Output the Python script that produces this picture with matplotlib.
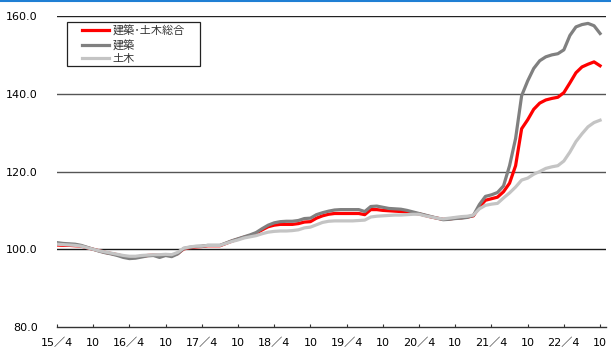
import matplotlib
matplotlib.use("Agg")
import matplotlib.pyplot as plt
from matplotlib.lines import Line2D
from matplotlib.patches import Rectangle

plt.rcParams['font.family'] = ['DejaVu Sans', 'Noto Sans CJK JP']

# 月次指数 2015/4 ～ 2022/10
tick_labels = ["15／4", "10", "16／4", "10", "17／4", "10", "18／4", "10",
               "19／4", "10", "20／4", "10", "21／4", "10", "22／4", "10"]

total = [101.1, 101.0, 101.0, 100.9, 100.8, 100.4, 100.0, 99.6, 99.2, 98.9,
         98.6, 98.2, 97.9, 98.0, 98.2, 98.4, 98.5, 98.4, 98.6, 98.4,
         98.9, 100.1, 100.4, 100.6, 100.7, 100.9, 100.9, 100.9, 101.5, 102.1,
         102.6, 103.1, 103.5, 104.1, 105.0, 105.8, 106.2, 106.4, 106.4, 106.4,
         106.6, 107.0, 107.1, 108.0, 108.6, 109.0, 109.2, 109.2, 109.2, 109.2,
         109.2, 108.9, 110.2, 110.2, 110.0, 109.9, 109.8, 109.7, 109.6, 109.3,
         109.1, 108.7, 108.3, 108.0, 107.7, 107.8, 108.0, 108.1, 108.3, 108.6,
         110.9, 112.6, 113.0, 113.4, 114.8, 117.0, 121.5, 131.0, 133.3, 136.0,
         137.6, 138.4, 138.8, 139.1, 140.3, 142.8, 145.4, 146.9, 147.6, 148.2,
         147.2]

building = [101.7, 101.5, 101.4, 101.3, 101.0, 100.5, 100.0, 99.5, 99.1, 98.8,
            98.4, 97.9, 97.6, 97.7, 98.0, 98.3, 98.4, 97.9, 98.4, 98.1,
            98.8, 100.2, 100.5, 100.7, 100.8, 101.0, 101.0, 101.0, 101.6, 102.2,
            102.7, 103.2, 103.7, 104.3, 105.3, 106.2, 106.8, 107.1, 107.2, 107.2,
            107.4, 107.9, 108.0, 108.9, 109.4, 109.8, 110.1, 110.2, 110.2, 110.2,
            110.2, 109.7, 111.0, 111.1, 110.8, 110.5, 110.4, 110.3, 110.0, 109.6,
            109.2, 108.8, 108.4, 108.0, 107.6, 107.7, 107.9, 108.0, 108.2, 108.7,
            111.5, 113.6, 114.0, 114.6, 116.3, 121.5, 128.5, 139.5, 143.3, 146.5,
            148.5, 149.5, 150.0, 150.3, 151.3, 155.0, 157.2, 157.8, 158.1, 157.5,
            155.5]

civil = [101.3, 101.2, 101.1, 101.0, 100.8, 100.4, 100.0, 99.6, 99.3, 99.0,
         98.7, 98.4, 98.2, 98.2, 98.4, 98.5, 98.6, 98.6, 98.7, 98.6,
         99.2, 100.3, 100.6, 100.8, 100.8, 101.0, 101.0, 101.0, 101.5, 102.0,
         102.4, 102.9, 103.2, 103.5, 104.0, 104.4, 104.6, 104.7, 104.7, 104.8,
         105.0, 105.5, 105.7, 106.3, 106.9, 107.2, 107.3, 107.3, 107.3, 107.3,
         107.4, 107.5, 108.3, 108.5, 108.6, 108.7, 108.8, 108.8, 108.9, 109.0,
         109.0, 108.6, 108.3, 108.0, 107.8, 108.0, 108.2, 108.4, 108.5, 108.8,
         110.4, 111.3, 111.6, 111.8, 113.2, 114.5, 116.0, 117.8, 118.3, 119.3,
         120.0, 120.8, 121.2, 121.5, 122.7, 125.0, 127.7, 129.7, 131.5, 132.6,
         133.2]

months = list(range(len(total)))

W, H = 611, 352
fig = plt.figure(figsize=(W / 100, H / 100), dpi=100)
ax = fig.add_axes([0.0933, 0.071, 0.8987, 0.8835])

ax.plot(months, total, color="#ff0000", lw=2.3, label="建築･土木総合", zorder=3)
ax.plot(months, building, color="#808080", lw=2.3, label="建築", zorder=3)
ax.plot(months, civil, color="#c4c4c4", lw=2.3, label="土木", zorder=3)

ax.set_xlim(0, 91)
ax.set_ylim(80, 160)
ax.set_xticks(range(0, 91, 6))
ax.set_xticklabels(tick_labels, fontsize=8)
ax.set_yticks([80, 100, 120, 140, 160])
ax.set_yticklabels([f"{v:.1f}" for v in [80, 100, 120, 140, 160]], fontsize=8)

# 横の目盛線
for v, c in [(100, "#1a1a1a"), (120, "#555555"), (140, "#555555"), (160, "#222222")]:
    ax.axhline(v, color=c, lw=1.0, zorder=1)

for s in ["left", "right", "top"]:
    ax.spines[s].set_visible(False)
ax.spines["bottom"].set_color("#333333")
ax.spines["bottom"].set_linewidth(1.0)
ax.tick_params(axis="x", direction="in", length=2.5, width=0.8, color="#333333", pad=8)
ax.tick_params(axis="y", length=0, pad=14)

# 凡例（枠は別に描く）
leg = ax.legend(loc="upper left", bbox_to_anchor=(82 / W, 1 - 25 / H),
                bbox_transform=fig.transFigure, frameon=False,
                prop={"family": ["Noto Sans CJK JP"], "size": 8},
                handlelength=2.4, handletextpad=0.35, labelspacing=0.33,
                borderpad=0, borderaxespad=0)
for t in leg.get_texts():
    t.set_color("#333333")
leg.set_zorder(6)
ax.add_patch(Rectangle((67 / W, 1 - 66 / H), 133 / W, 44 / H,
                       transform=fig.transFigure, facecolor="white",
                       edgecolor="#222222", lw=0.9, zorder=5, clip_on=False))

# 上端の青線
fig.add_artist(Line2D([0, 1], [0.998, 0.998], transform=fig.transFigure,
                      color="#1f7fd4", lw=1.5))

fig.savefig("out.png", dpi=100)
